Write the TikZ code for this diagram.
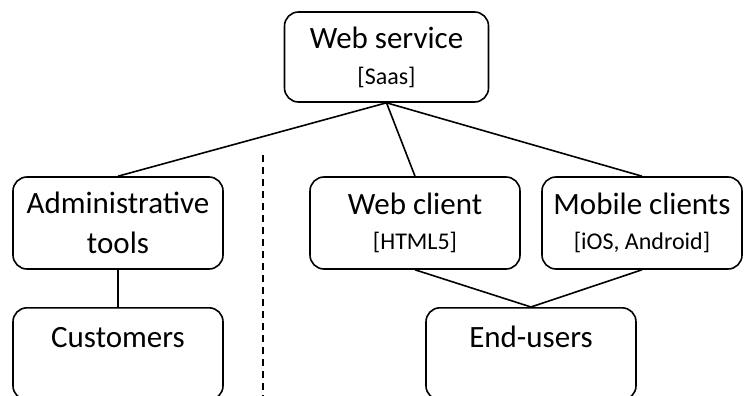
\documentclass[tikz,border=0pt]{standalone}
\usepackage{fontspec}
\setmainfont{Carlito}
\usetikzlibrary{positioning}
\newcommand{\subtxt}[1]{{\fontsize{24}{28}\selectfont #1}}

\begin{document}
\begin{tikzpicture}[x=1pt,y=-1pt,
  box/.style={draw,rounded corners=14pt,line width=1.6pt,minimum width=210pt,minimum height=92pt,
    align=center,inner xsep=4pt,font=\fontsize{31}{40}\selectfont},
  toptext/.style={anchor=north,text height=38pt,text depth=50pt,inner ysep=2pt},
  link/.style={line width=1.6pt}]
\useasboundingbox (0,0) rectangle (744,396);

\node[box,minimum width=204pt,minimum height=90pt] (ws) at (386.5,57) {Web service\\[-4pt]\subtxt{[Saas]}};

\node[box] (admin) at (118,223) {Administrative\\tools};
\node[box,toptext] (cust) at (118,307) {Customers};

\node[box] (webc) at (415,223) {Web client\\[-5pt]\subtxt{[HTML5]}};
\node[box,minimum width=200pt] (mobc) at (642,223) {Mobile clients\\[-5pt]\subtxt{[iOS, Android]}};
\node[box,toptext] (endu) at (531,307) {End-users};

\draw[link] (ws.south) -- (admin.north);
\draw[link] (ws.south) -- (webc.north);
\draw[link] (ws.south) -- (mobc.north);
\draw[link] (admin) -- (cust);
\draw[link] (webc.south) -- (endu.north);
\draw[link] (mobc.south) -- (endu.north);

\coordinate (sep1) at (263,155);
\coordinate (sep2) at (263,398);
\draw[link,dash pattern=on 7pt off 5pt] (sep1) -- (sep2);
\end{tikzpicture}
\end{document}
